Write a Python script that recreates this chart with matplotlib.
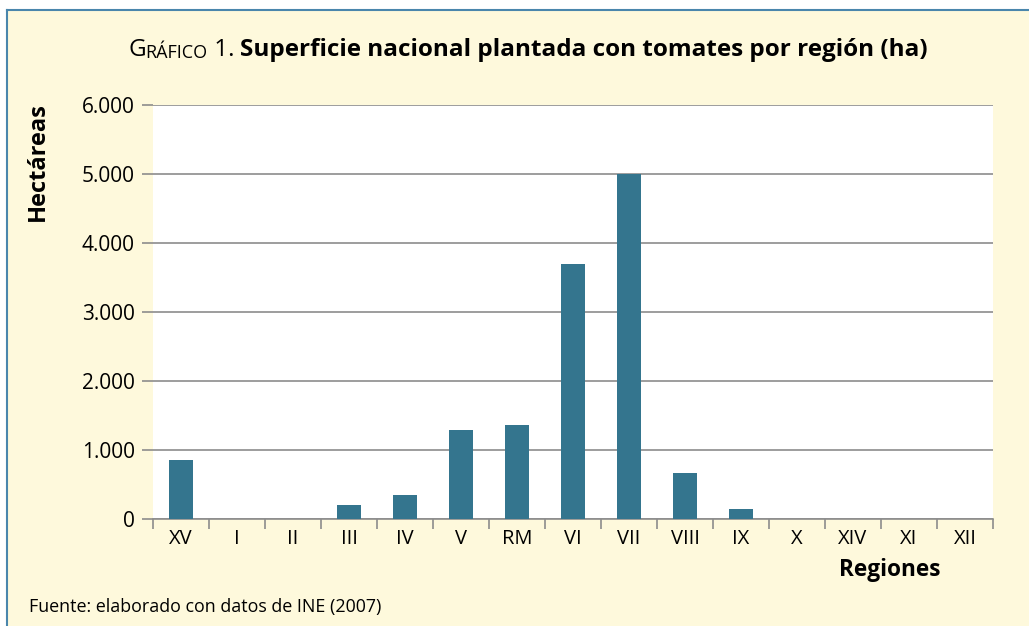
import matplotlib
matplotlib.use("Agg")
import matplotlib.pyplot as plt
from matplotlib.lines import Line2D
from matplotlib.ticker import FuncFormatter, FixedLocator, NullFormatter
import numpy as np

regiones = ["XV", "I", "II", "III", "IV", "V", "RM", "VI", "VII", "VIII", "IX", "X", "XIV", "XI", "XII"]
hectareas = [850, 0, 0, 210, 350, 1290, 1360, 3700, 5000, 670, 150, 0, 0, 0, 0]
y_ticks = [0, 1000, 2000, 3000, 4000, 5000, 6000]

crema = "#FEF9DC"
azul = "#34758E"
gris = "#8C8C8C"
plt.rcParams["font.family"] = ["Open Sans", "DejaVu Sans"]

fig = plt.figure(figsize=(10.29, 6.26), dpi=100, facecolor=crema)
ax = fig.add_axes([153 / 1029, 1 - 519 / 626, 840 / 1029, 414 / 626])
ax.set_facecolor("white")

x = np.arange(len(regiones))
ax.bar(x, hectareas, width=0.43, color=azul, zorder=3)

ax.set_xlim(-0.5, len(regiones) - 0.5)
ax.set_ylim(0, 6000)
ax.set_yticks(y_ticks)
ax.yaxis.set_major_formatter(FuncFormatter(lambda v, p: f"{int(v):,}".replace(",", ".")))
ax.grid(axis="y", color=gris, linewidth=1.2, zorder=1)
ax.tick_params(axis="y", length=8, color=gris, width=1.2, labelsize=15, pad=5)

# etiquetas centradas, marcas en los bordes de categoria
ax.xaxis.set_major_locator(FixedLocator(np.arange(-0.5, len(regiones), 1.0)))
ax.xaxis.set_major_formatter(NullFormatter())
ax.xaxis.set_minor_locator(FixedLocator(x))
ax.set_xticklabels(regiones, minor=True)
ax.tick_params(axis="x", which="major", length=7, color=gris, width=1.2)
ax.tick_params(axis="x", which="minor", length=0, labelsize=14.5, pad=7)

for s in ["left", "right", "top"]:
    ax.spines[s].set_visible(False)
ax.spines["bottom"].set_color(gris)
ax.spines["bottom"].set_linewidth(1.2)

# titulo con versalitas
t1 = fig.text(128 / 1029, 1 - 56 / 626, "G", fontsize=17.5, va="baseline", ha="left")
t2 = ax.annotate("RÁFICO", xy=(1, 0), xycoords=t1, fontsize=13, va="bottom", ha="left")
t3 = ax.annotate(" 1. ", xy=(1, 0), xycoords=t2, fontsize=17.5, va="bottom", ha="left")
ax.annotate("Superficie nacional plantada con tomates por región (ha)", xy=(1, 0), xycoords=t3,
            fontsize=17.5, fontweight="bold", va="bottom", ha="left")

fig.text(38 / 1029, 1 - 162 / 626, "Hectáreas", rotation=90, fontsize=17, fontweight="bold",
         ha="center", va="center")
fig.text(890 / 1029, 1 - 570 / 626, "Regiones", fontsize=16.3, fontweight="bold", ha="center", va="center")
fig.text(29 / 1029, 1 - 607 / 626, "Fuente: elaborado con datos de INE (2007)", fontsize=12.9,
         ha="left", va="center")

borde = "#4A86AC"
fig.patches.append(plt.Rectangle((0, 1 - 10 / 626), 1, 10 / 626, transform=fig.transFigure,
                                 facecolor="white", edgecolor="none", zorder=-1))
fig.patches.append(plt.Rectangle((0, 0), 7 / 1029, 1, transform=fig.transFigure,
                                 facecolor="white", edgecolor="none", zorder=-1))
fig.add_artist(Line2D([7 / 1029, 7 / 1029], [0, 1 - 10 / 626], color=borde, linewidth=1.5,
                      transform=fig.transFigure))
fig.add_artist(Line2D([7 / 1029, 1], [1 - 10 / 626, 1 - 10 / 626], color=borde, linewidth=1.5,
                      transform=fig.transFigure))

fig.savefig("out.png", dpi=100, facecolor=crema)
